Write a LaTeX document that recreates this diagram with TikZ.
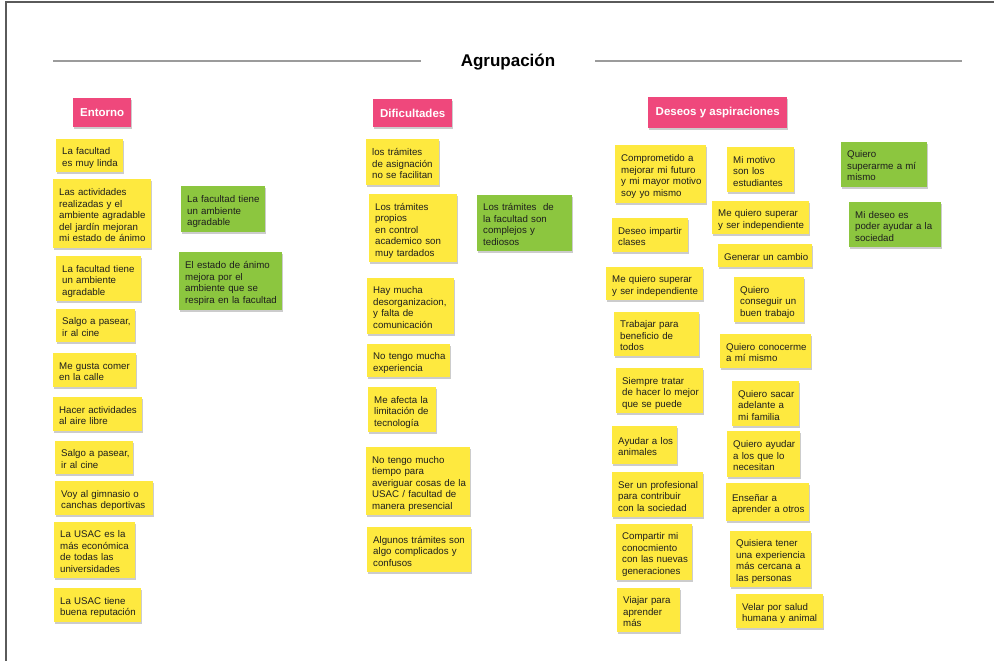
\documentclass[tikz,border=0pt]{standalone}
\usepackage{fontspec}
\setmainfont{Liberation Sans}
\usetikzlibrary{shadows}

\definecolor{noteyellow}{HTML}{FEE93F}
\definecolor{notegreen}{HTML}{8CC63F}
\definecolor{tagpink}{HTML}{EF487C}
\definecolor{rulegray}{HTML}{9B9B9B}
\definecolor{framegray}{HTML}{5A5A5A}
\definecolor{inkdark}{HTML}{1E1E1E}

% the lines of a sticky note, kept as typed (never rewrapped), set a little low
\newcommand\nlines[1]{\raisebox{-2.5pt}[\height][\depth]{\begin{tabular}{@{}l@{}}#1\end{tabular}}}

\tikzset{
  softshadow/.style={drop shadow={shadow xshift=1pt, shadow yshift=-1.5pt, opacity=0.2, fill=black}},
  note/.style={anchor=north west, inner xsep=6pt, inner ysep=2pt, align=left,
    text=inkdark, font=\fontsize{9.7}{11.5}\selectfont, softshadow},
  ynote/.style={note, fill=noteyellow},
  gnote/.style={note, fill=notegreen},
  tag/.style={anchor=north west, fill=tagpink, text=white, inner sep=0pt,
    font=\fontsize{11.5}{13}\selectfont\bfseries, softshadow},
  titletext/.style={font=\fontsize{17}{20}\selectfont\bfseries, text=black},
  titlerule/.style={draw=rulegray, line width=2pt},
}

\begin{document}
\begin{tikzpicture}[x=1pt, y=-1pt]
\useasboundingbox (0,0) rectangle (994,661);
\fill[white] (0,0) rectangle (994,661);

% board frame (left and top edges)
\draw[framegray, line width=1.5pt] (6,661) -- (6,2) -- (994,2);

% heading with rules on either side
\node[titletext] (title) at (508,62) {Agrupación};
\coordinate (ruleLa) at (53,61);
\coordinate (ruleLb) at (421,61);
\coordinate (ruleRa) at (595,61);
\coordinate (ruleRb) at (962,61);
\draw[titlerule] (ruleLa) -- (ruleLb);
\draw[titlerule] (ruleRa) -- (ruleRb);

% group tags
\node[tag, minimum width=58pt, minimum height=29pt] (tagEntorno) at (73,98) {Entorno};
\node[tag, minimum width=79pt, minimum height=28pt] (tagDificultades) at (373,99) {Dificultades};
\node[tag, minimum width=139pt, minimum height=31pt] (tagDeseos) at (648,97) {Deseos y aspiraciones};

% ---- Entorno ----
\node[ynote, text width=55pt, minimum height=33pt] (e1) at (56,139) {\nlines{La facultad\\es muy linda}};
\node[ynote, text width=86pt, minimum height=69pt] (e2) at (53,179) {\nlines{Las actividades\\realizadas y el\\ambiente agradable\\del jardín mejoran\\mi estado de ánimo}};
\node[ynote, text width=73pt, minimum height=45pt] (e3) at (56,256) {\nlines{La facultad tiene\\un ambiente\\agradable}};
\node[ynote, text width=67pt, minimum height=33pt] (e4) at (56,309) {\nlines{Salgo a pasear,\\ir al cine}};
\node[ynote, text width=71pt, minimum height=34pt] (e5) at (53,353) {\nlines{Me gusta comer\\en la calle}};
\node[ynote, text width=77pt, minimum height=34pt] (e6) at (53,397) {\nlines{Hacer actividades\\al aire libre}};
\node[ynote, text width=66pt, minimum height=33pt] (e7) at (55,441) {\nlines{Salgo a pasear,\\ir al cine}};
\node[ynote, text width=86pt, minimum height=34pt] (e8) at (55,481) {\nlines{Voy al gimnasio o\\canchas deportivas}};
\node[ynote, text width=69pt, minimum height=56pt] (e9) at (54,522) {\nlines{La USAC es la\\más económica\\de todas las\\universidades}};
\node[ynote, text width=75pt, minimum height=34pt] (e10) at (54,588) {\nlines{La USAC tiene\\buena reputación}};
\node[gnote, text width=72pt, minimum height=46pt] (eg1) at (181,186) {\nlines{La facultad tiene\\un ambiente\\agradable}};
\node[gnote, text width=91pt, minimum height=58pt] (eg2) at (179,252) {\nlines{El estado de ánimo\\mejora por el\\ambiente que se\\respira en la facultad}};

% ---- Dificultades ----
\node[ynote, text width=61pt, minimum height=46pt] (d1) at (366,139) {\nlines{los trámites\\de asignación\\no se facilitan}};
\node[ynote, text width=76pt, minimum height=68pt] (d2) at (369,194) {\nlines{Los trámites\\propios\\en control\\academico son\\muy tardados}};
\node[ynote, text width=75pt, minimum height=56pt] (d3) at (367,278) {\nlines{Hay mucha\\desorganizacion,\\y falta de\\comunicación}};
\node[ynote, text width=71pt, minimum height=33pt] (d4) at (367,344) {\nlines{No tengo mucha\\experiencia}};
\node[ynote, text width=56pt, minimum height=45pt] (d5) at (368,387) {\nlines{Me afecta la\\limitación de\\tecnología}};
\node[ynote, text width=92pt, minimum height=68pt] (d6) at (366,447) {\nlines{No tengo mucho\\tiempo para\\averiguar cosas de la\\USAC / facultad de\\manera presencial}};
\node[ynote, text width=92pt, minimum height=45pt] (d7) at (367,527) {\nlines{Algunos trámites son\\algo complicados y\\confusos}};
\node[gnote, text width=83pt, minimum height=56pt] (dg1) at (477,195) {\nlines{Los trámites~ de\\la facultad son\\complejos y\\tediosos}};

% ---- Deseos y aspiraciones ----
\node[ynote, text width=79pt, minimum height=58pt] (w1) at (615,145) {\nlines{Comprometido a\\mejorar mi futuro\\y mi mayor motivo\\soy yo mismo}};
\node[ynote, text width=55pt, minimum height=45pt] (w2) at (727,147) {\nlines{Mi motivo\\son los\\estudiantes}};
\node[ynote, text width=85pt, minimum height=33pt] (w3) at (712,201) {\nlines{Me quiero superar\\y ser independiente}};
\node[ynote, text width=64pt, minimum height=34pt] (w4) at (612,218) {\nlines{Deseo impartir\\clases}};
\node[ynote, text width=82pt, minimum height=23pt] (w5) at (718,244) {\nlines{Generar un cambio}};
\node[ynote, text width=85pt, minimum height=33pt] (w6) at (606,267) {\nlines{Me quiero superar\\y ser independiente}};
\node[ynote, text width=58pt, minimum height=45pt] (w7) at (734,277) {\nlines{Quiero\\conseguir un\\buen trabajo}};
\node[ynote, text width=73pt, minimum height=44pt] (w8) at (614,312) {\nlines{Trabajar para\\beneficio de\\todos}};
\node[ynote, text width=79pt, minimum height=34pt] (w9) at (720,334) {\nlines{Quiero conocerme\\a mí mismo}};
\node[ynote, text width=75pt, minimum height=45pt] (w10) at (616,368) {\nlines{Siempre tratar\\de hacer lo mejor\\que se puede}};
\node[ynote, text width=55pt, minimum height=45pt] (w11) at (732,381) {\nlines{Quiero sacar\\adelante a\\mi familia}};
\node[ynote, text width=53pt, minimum height=38pt] (w12) at (612,426) {\nlines{Ayudar a los\\animales}};
\node[ynote, text width=61pt, minimum height=46pt] (w13) at (727,431) {\nlines{Quiero ayudar\\a los que lo\\necesitan}};
\node[ynote, text width=79pt, minimum height=45pt] (w14) at (612,472) {\nlines{Ser un profesional\\para contribuir\\con la sociedad}};
\node[ynote, text width=71pt, minimum height=38pt] (w15) at (726,483) {\nlines{Enseñar a\\aprender a otros}};
\node[ynote, text width=64pt, minimum height=56pt] (w16) at (616,524) {\nlines{Compartir mi\\conocmiento\\con las nuevas\\generaciones}};
\node[ynote, text width=69pt, minimum height=56pt] (w17) at (730,531) {\nlines{Quisiera tener\\una experiencia\\más cercana a\\las personas}};
\node[ynote, text width=51pt, minimum height=44pt] (w18) at (617,588) {\nlines{Viajar para\\aprender\\más}};
\node[ynote, text width=75pt, minimum height=34pt] (w19) at (736,594) {\nlines{Velar por salud\\humana y animal}};
\node[gnote, text width=74pt, minimum height=45pt] (wg1) at (841,142) {\nlines{Quiero\\superarme a mí\\mismo}};
\node[gnote, text width=80pt, minimum height=45pt] (wg2) at (849,202) {\nlines{Mi deseo es\\poder ayudar a la\\sociedad}};

\end{tikzpicture}
\end{document}
